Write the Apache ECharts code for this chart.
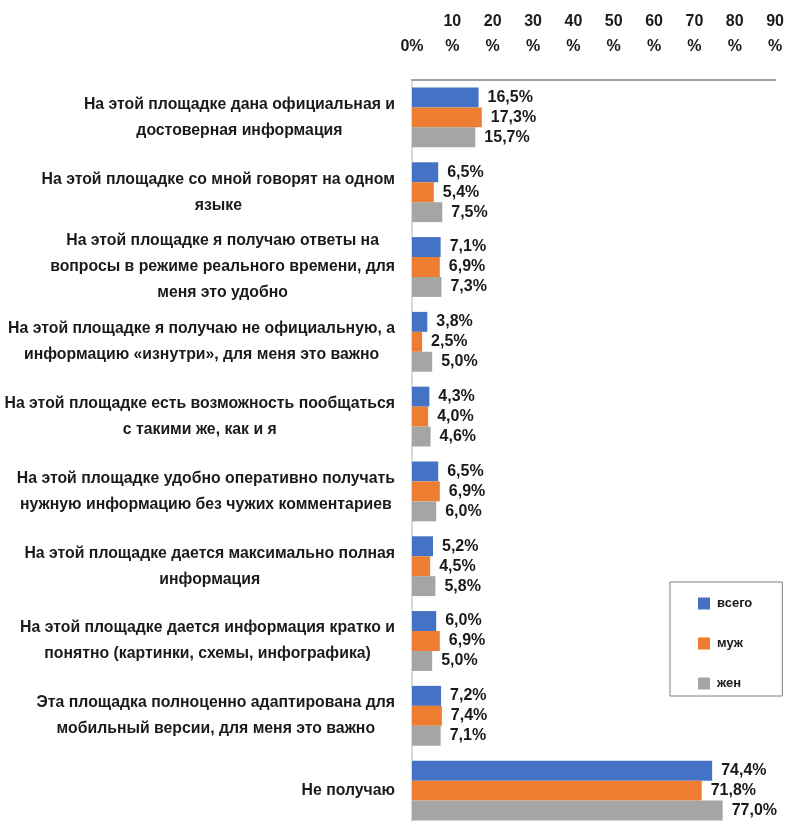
<!DOCTYPE html>
<html>
<head>
<meta charset="utf-8">
<script src="https://cdn.jsdelivr.net/npm/echarts@6/dist/echarts.min.js"></script>
<style>
  html, body { margin: 0; padding: 0; background: #fff; overflow: hidden; }
  /* the plot runs slightly past the bottom edge of the window */
  #chart { width: 787px; height: 830px; }
</style>
</head>
<body>
<div id="chart"></div>
<script>
// Reasons for choosing the platform, share of respondents (%)
const categories = [
  'На этой площадке дана официальная и\nдостоверная информация',
  'На этой площадке со мной говорят на одном\nязыке',
  'На этой площадке я получаю ответы на\nвопросы в режиме реального времени, для\nменя это удобно',
  'На этой площадке я получаю не официальную, а\nинформацию «изнутри», для меня это важно',
  'На этой площадке есть возможность пообщаться\nс такими же, как и я',
  'На этой площадке удобно оперативно получать\nнужную информацию без чужих комментариев',
  'На этой площадке дается максимально полная\nинформация',
  'На этой площадке дается информация кратко и\nпонятно (картинки, схемы, инфографика)',
  'Эта площадка полноценно адаптирована для\nмобильный версии, для меня это важно',
  'Не получаю'
];

const seriesNames = ['всего', 'муж', 'жен'];
const total = [16.5, 6.5, 7.1, 3.8, 4.3, 6.5, 5.2, 6.0, 7.2, 74.4];
const male = [17.3, 5.4, 6.9, 2.5, 4.0, 6.9, 4.5, 6.9, 7.4, 71.8];
const female = [15.7, 7.5, 7.3, 5.0, 4.6, 6.0, 5.8, 5.0, 7.1, 77.0];

const colors = ['#4472C4', '#ED7D31', '#A5A5A5'];
const FONT = '"Liberation Sans", Arial, sans-serif';

const chart = echarts.init(document.getElementById('chart'), null, { renderer: 'canvas' });

function pct(v) {
  return v.toFixed(1).replace('.', ',') + '%';
}

function makeSeries(name, data, color) {
  return {
    name: name,
    type: 'bar',
    data: data,
    barGap: '0%',
    barCategoryGap: '20%',
    itemStyle: { color: color },
    label: {
      show: true,
      position: 'right',
      distance: 9,
      formatter: p => pct(p.value),
      fontFamily: FONT,
      fontWeight: 'bold',
      fontSize: 16,
      color: '#1a1a1a'
    }
  };
}

chart.setOption({
  animation: false,
  color: colors,
  textStyle: { fontFamily: FONT },
  grid: { left: 412, right: 9, top: 80, bottom: 2, containLabel: false },
  legend: {
    orient: 'vertical',
    left: 670,
    top: 582,
    padding: [15, 30, 6, 28],
    itemWidth: 12,
    itemHeight: 12,
    itemGap: 27,
    borderColor: '#7f7f7f',
    borderWidth: 1,
    icon: 'rect',
    data: seriesNames,
    textStyle: { fontFamily: FONT, fontSize: 13, fontWeight: 'bold', color: '#1a1a1a', padding: [0, 0, 0, 2] }
  },
  xAxis: {
    type: 'value',
    position: 'top',
    min: 0,
    max: 90,
    interval: 10,
    axisLine: { show: true, lineStyle: { color: '#a0a0a0', width: 2 } },
    axisTick: { show: false },
    splitLine: { show: false },
    axisLabel: {
      margin: 21,
      fontFamily: FONT,
      fontSize: 16,
      fontWeight: 'bold',
      lineHeight: 25,
      color: '#1a1a1a',
      formatter: v => (v === 0 ? '0%' : v + '\n%')
    }
  },
  yAxis: {
    type: 'category',
    inverse: true,
    data: categories,
    axisLine: { show: true, lineStyle: { color: '#d9d9d9', width: 2 } },
    axisTick: { show: false },
    axisLabel: {
      margin: 17,
      align: 'right',
      formatter: v => v.split('\n').map(s => '{t|' + s + '}').join('\n'),
      rich: {
        t: {
          align: 'center',
          fontFamily: FONT,
          fontSize: 15.8,
          fontWeight: 'bold',
          lineHeight: 26,
          color: '#1a1a1a'
        }
      }
    }
  },
  series: [
    makeSeries(seriesNames[0], total, colors[0]),
    makeSeries(seriesNames[1], male, colors[1]),
    makeSeries(seriesNames[2], female, colors[2])
  ]
});
</script>
</body>
</html>
